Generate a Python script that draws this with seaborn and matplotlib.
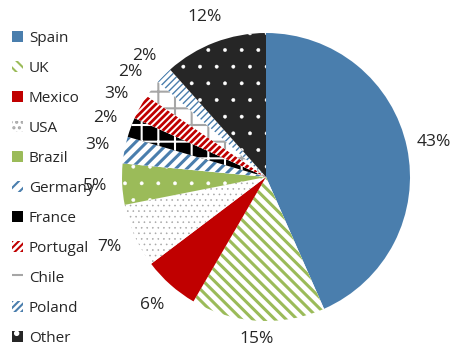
import matplotlib
matplotlib.use("Agg")
import matplotlib.pyplot as plt
import seaborn as sns
import numpy as np
from matplotlib.patches import Patch

countries = ["Spain", "UK", "Mexico", "USA", "Brazil", "Germany", "France",
             "Portugal", "Chile", "Poland", "Other"]
shares = [43.4, 15.0, 6.3, 7.2, 4.6, 3.0, 2.2, 2.8, 2.0, 1.9, 11.6]
pct_labels = ["43%", "15%", "6%", "7%", "5%", "3%", "2%", "3%", "2%", "2%", "12%"]

BLUE = "#4A7EAD"
GREEN = "#9BBB59"
RED = "#C00000"
GRAY = "#A6A6A6"
DARK = "#262626"

# (face, hatch colour, hatch, hatch linewidth)
styles = [
    (BLUE, BLUE, None, 1.0),
    ("white", GREEN, "\\\\\\", 2.2),
    (RED, RED, None, 1.0),
    ("white", GRAY, "...", 0.4),
    (GREEN, "white", ".", 0.3),
    ("white", BLUE, "///", 2.2),
    ("black", "white", "+", 1.5),
    ("white", RED, "/////", 2.0),
    ("white", GRAY, "+", 1.5),
    ("white", BLUE, "/////", 1.0),
    (DARK, "white", ".", 0.3),
]

sns.set_theme(style="white")
plt.rcParams["font.family"] = ["Open Sans", "DejaVu Sans"]
plt.rcParams["hatch.linewidth"] = 1.5

fig = plt.figure(figsize=(4.61, 3.47), dpi=100)
W, H = 461, 347
cx, cy, R = 266, 177, 144
ax = fig.add_axes([(cx - R) / W, (H - cy - R) / H, 2 * R / W, 2 * R / H])

wedges, _ = ax.pie(shares, startangle=90, counterclock=False,
                   wedgeprops=dict(linewidth=0))


def style_patch(p, fc, hc, hatch, hlw):
    p.set_facecolor(fc)
    p.set_edgecolor(hc)
    p.set_linewidth(0)
    if hatch:
        p.set_hatch(hatch)
        if hasattr(p, "set_hatch_linewidth"):
            p.set_hatch_linewidth(hlw)


for w, st in zip(wedges, styles):
    style_patch(w, *st)

# labels at outside end of each wedge
for w, txt in zip(wedges, pct_labels):
    ang = np.deg2rad((w.theta1 + w.theta2) / 2)
    d = 1.19 if txt != "15%" else 1.13
    ax.text(d * np.cos(ang), d * np.sin(ang), txt, ha="center", va="center",
            fontsize=12.5, color="#262626", clip_on=False)

ax.set_xlim(-1, 1)
ax.set_ylim(-1, 1)
ax.set_aspect("equal")
ax.axis("off")

handles = []
for st in styles:
    p = Patch()
    style_patch(p, *st)
    handles.append(p)
leg = fig.legend(handles, countries, loc="upper left",
                 bbox_to_anchor=(12 / W, 1 - 31 / H), frameon=False,
                 fontsize=11, handlelength=0.7, handleheight=0.7,
                 handletextpad=0.4, labelspacing=0.98, borderpad=0,
                 borderaxespad=0)
for t in leg.get_texts():
    t.set_color("#262626")

fig.savefig("out.png", dpi=100)
